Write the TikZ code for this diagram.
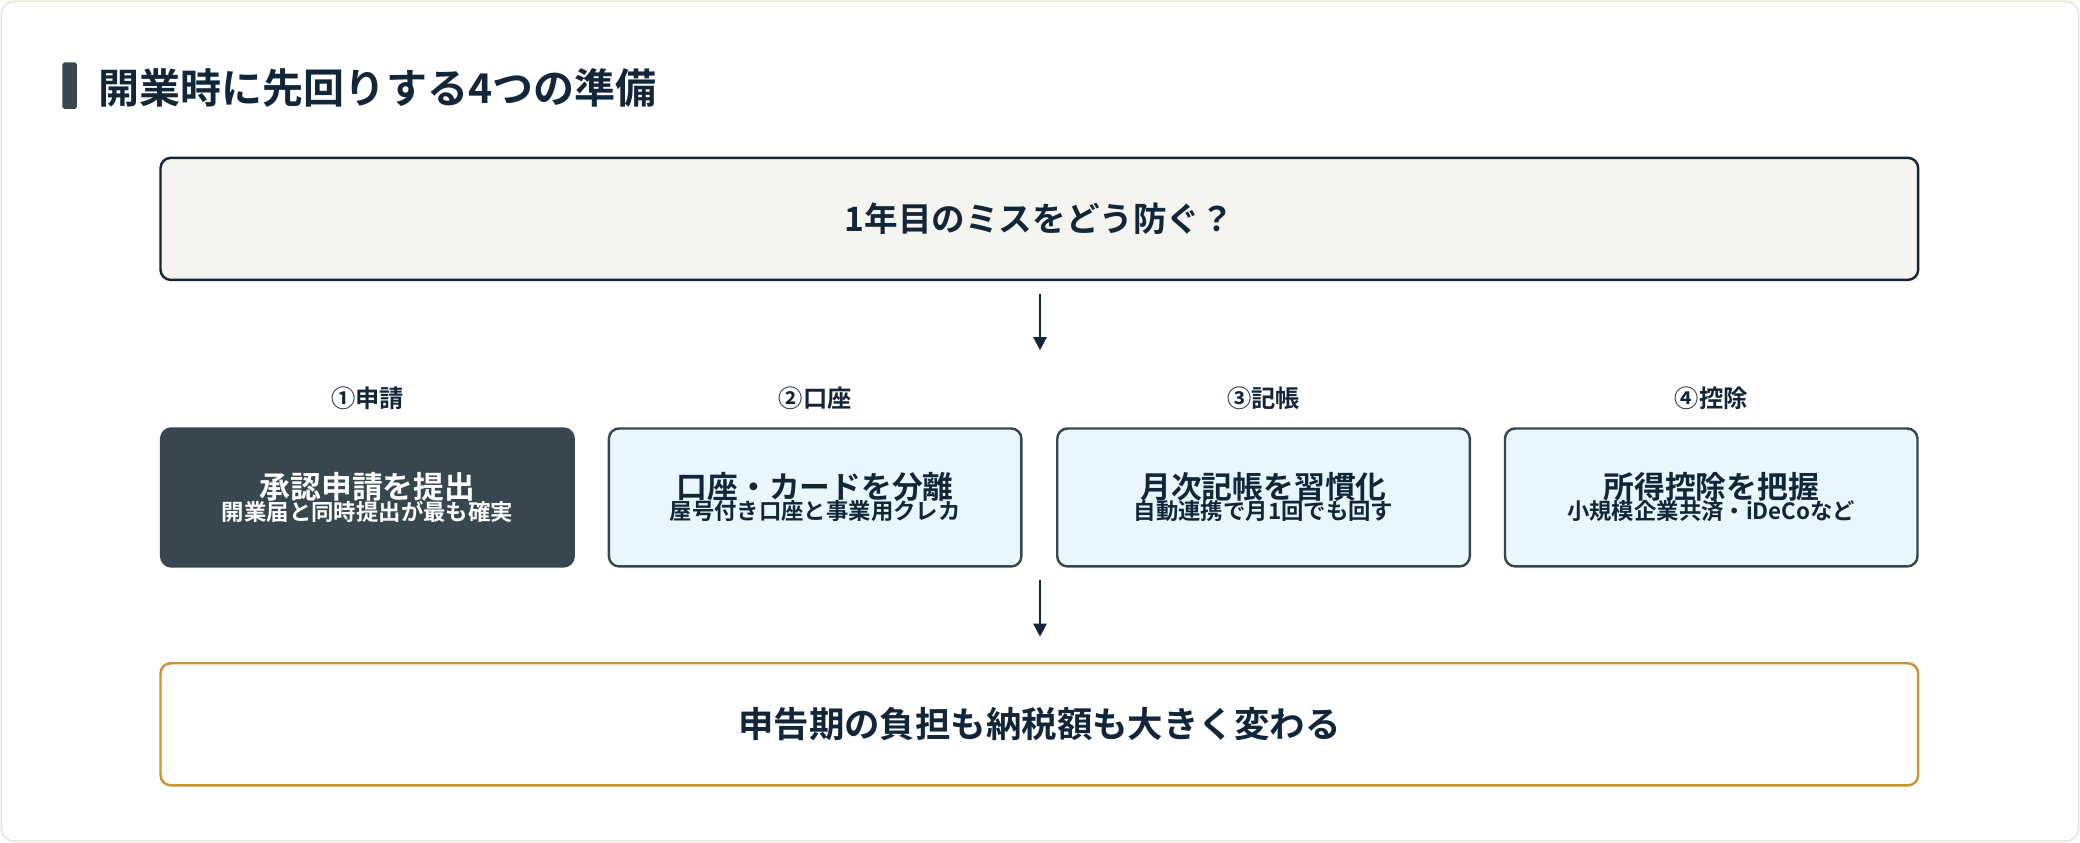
\documentclass[tikz,border=0pt]{standalone}
\usepackage{fontspec}
\setmainfont{Noto Sans CJK JP}
\newfontfamily\jpbold{Noto Sans CJK JP Bold}
\usetikzlibrary{arrows.meta}
\definecolor{navy}{HTML}{12263A}
\definecolor{slate}{HTML}{37474F}
\definecolor{cream}{HTML}{F5F4EF}
\definecolor{icebg}{HTML}{E8F7FD}
\definecolor{gold}{HTML}{C8962E}
\definecolor{frame}{HTML}{E4E2D6}
\begin{document}
\begin{tikzpicture}[x=0.5mm,y=-0.5mm,
 box/.style={draw=slate,line width=2.6pt,rounded corners=11pt,align=center,text=navy},
 stepbox/.style={box,fill=icebg},
 darkbox/.style={box,fill=slate,text=white},
 lbl/.style={text=navy,font=\jpbold\fontsize{26}{30}\selectfont},
 arr/.style={-{Triangle[length=14pt,width=14pt]},line width=2.6pt,draw=navy}]
 \draw[frame,line width=1.5pt,fill=white,rounded corners=14pt](1,1) rectangle (1567,634);
 \useasboundingbox (0,0) rectangle (1568,635);
 \fill[slate,rounded corners=2pt](47,47) rectangle (58,82);
 \node[anchor=west,text=navy,font=\jpbold\fontsize{44}{50}\selectfont] (title) at (72,66) {開業時に先回りする4つの準備};
 \node[box,draw=navy,fill=cream,minimum width=1325*0.5mm,minimum height=92*0.5mm,font=\jpbold\fontsize{36}{40}\selectfont] (q) at (783.5,165) {1年目のミスをどう防ぐ？};
 \node[box,draw=gold,fill=white,minimum width=1325*0.5mm,minimum height=92*0.5mm,font=\jpbold\fontsize{38}{42}\selectfont] (res) at (783.5,546) {申告期の負担も納税額も大きく変わる};
 \foreach \n/\x/\l/\h/\s/\st in {a/277/①申請/承認申請を提出/開業届と同時提出が最も確実/darkbox,
   b/614.5/②口座/口座・カードを分離/屋号付き口座と事業用クレカ/stepbox,
   c/952.5/③記帳/月次記帳を習慣化/自動連携で月1回でも回す/stepbox,
   d/1290/④控除/所得控除を把握/小規模企業共済・iDeCoなど/stepbox}{
  \node[\st,minimum width=311*0.5mm,minimum height=104*0.5mm] (\n) at (\x,375) {{\jpbold\fontsize{33}{44}\selectfont \h}\\[-2pt]{\fontsize{24}{30}\selectfont\jpbold \s}};
  \node[lbl] (\n lbl) at (\x,300) {\l};
 }
 \coordinate (t1) at (784,222);
 \coordinate (t2) at (784,264);
 \coordinate (b1) at (784,437);
 \coordinate (b2) at (784,480);
 \draw[arr] (t1) -- (t2);
 \draw[arr] (b1) -- (b2);
\end{tikzpicture}
\end{document}
